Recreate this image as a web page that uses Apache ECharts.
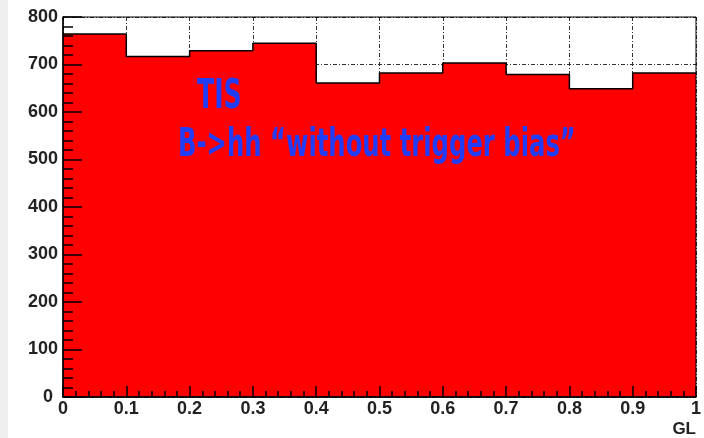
<!DOCTYPE html>
<html>
<head>
<meta charset="utf-8">
<script src="https://cdn.jsdelivr.net/npm/echarts@6/dist/echarts.min.js"></script>
<style>
  html, body { margin: 0; padding: 0; background: #fff; }
  #chart { width: 704px; height: 438px; }
</style>
</head>
<body>
<div id="chart"></div>
<script>
// left edges of the GL bins and the TIS counts in each bin
const binEdges = [0, 0.1, 0.2, 0.3, 0.4, 0.5, 0.6, 0.7, 0.8, 0.9];
const binWidth = 0.1;
const counts = [764, 717, 729, 745, 661, 682, 703, 679, 649, 682];
const yTicks = [0, 100, 200, 300, 400, 500, 600, 700, 800];
const xTicks = [0, 0.1, 0.2, 0.3, 0.4, 0.5, 0.6, 0.7, 0.8, 0.9, 1];

const labelFont = 'Liberation Sans, Arial, sans-serif';
const gridDash = { color: '#333', width: 1, type: [4, 2, 1, 2] };

// step line needs one more point at the right edge
let stepData = binEdges.map((x, i) => [x, counts[i]]);
stepData.push([binEdges[binEdges.length - 1] + binWidth, counts[counts.length - 1]]);

const xBase = {
    type: 'value',
    min: xTicks[0],
    max: xTicks[xTicks.length - 1],
    interval: 0.1
};

const yBase = {
    type: 'value',
    min: yTicks[0],
    max: yTicks[yTicks.length - 1],
    interval: 100
};

let chart = echarts.init(document.getElementById('chart'));

let option = {
    animation: false,
    backgroundColor: '#fff',
    grid: {
        left: 63, right: 5, top: 17, bottom: 40,
        show: true,
        backgroundColor: 'transparent',
        borderColor: '#000',
        borderWidth: 1,
        z: 10
    },
    graphic: [
        {
            type: 'rect', left: 0, top: 0, z: -1,
            shape: { width: 8, height: 438 },
            style: { fill: '#efefef' }
        },
        {
            type: 'text', left: 197, top: 77, z: 20,
            scaleY: 1.45,
            style: {
                text: 'TIS',
                font: 'bold 28px "DejaVu Sans Condensed", sans-serif',
                fill: '#1f3dfa'
            }
        },
        {
            type: 'text', left: 178, top: 126, z: 20,
            scaleY: 1.45,
            style: {
                text: 'B->hh \u201cwithout trigger bias\u201d',
                font: 'bold 27px "DejaVu Sans Condensed", sans-serif',
                fill: '#1f3dfa'
            }
        }
    ],
    xAxis: [
        {
            // dotted grid lines, behind the histogram
            ...xBase,
            z: 0,
            axisLine: { show: false },
            axisTick: { show: false },
            axisLabel: { show: false },
            splitLine: { show: true, lineStyle: gridDash }
        },
        {
            ...xBase,
            position: 'bottom',
            z: 5,
            name: 'GL',
            nameLocation: 'end',
            nameGap: 0,
            nameTextStyle: {
                fontFamily: labelFont, fontWeight: 'bold', fontSize: 17, color: '#222',
                align: 'right', verticalAlign: 'top', padding: [24, 0, 0, 0]
            },
            axisLine: { show: true, onZero: false, lineStyle: { color: '#000', width: 1.5 } },
            axisTick: { show: true, inside: true, length: 11, lineStyle: { color: '#000', width: 1.5 } },
            minorTick: { show: true, splitNumber: 5, length: 6, lineStyle: { color: '#000', width: 1.5 } },
            axisLabel: {
                show: true, margin: 3,
                fontFamily: labelFont, fontWeight: 'bold', fontSize: 18, color: '#222',
                formatter: v => String(Math.round(v * 10) / 10),
                showMaxLabel: true, showMinLabel: true
            },
            splitLine: { show: false }
        }
    ],
    yAxis: [
        {
            ...yBase,
            z: 0,
            axisLine: { show: false },
            axisTick: { show: false },
            axisLabel: { show: false },
            splitLine: { show: true, lineStyle: gridDash }
        },
        {
            ...yBase,
            position: 'left',
            z: 5,
            axisLine: { show: true, onZero: false, lineStyle: { color: '#000', width: 1.5 } },
            axisTick: { show: true, inside: true, length: 19, lineStyle: { color: '#000', width: 1.5 } },
            minorTick: { show: true, splitNumber: 5, length: 10, lineStyle: { color: '#000', width: 1.5 } },
            axisLabel: {
                show: true, margin: 5,
                fontFamily: labelFont, fontWeight: 'bold', fontSize: 18, color: '#222',
                formatter: v => (v === 0 ? '0 ' : String(v))
            },
            splitLine: { show: false }
        }
    ],
    series: [
        {
            name: 'TIS',
            type: 'line',
            xAxisIndex: 0,
            yAxisIndex: 0,
            step: 'end',
            symbol: 'none',
            data: stepData,
            z: 2,
            lineStyle: { color: '#000', width: 1.5 },
            areaStyle: { color: '#ff0000', opacity: 1 }
        }
    ]
};

option && chart.setOption(option);
</script>
</body>
</html>
